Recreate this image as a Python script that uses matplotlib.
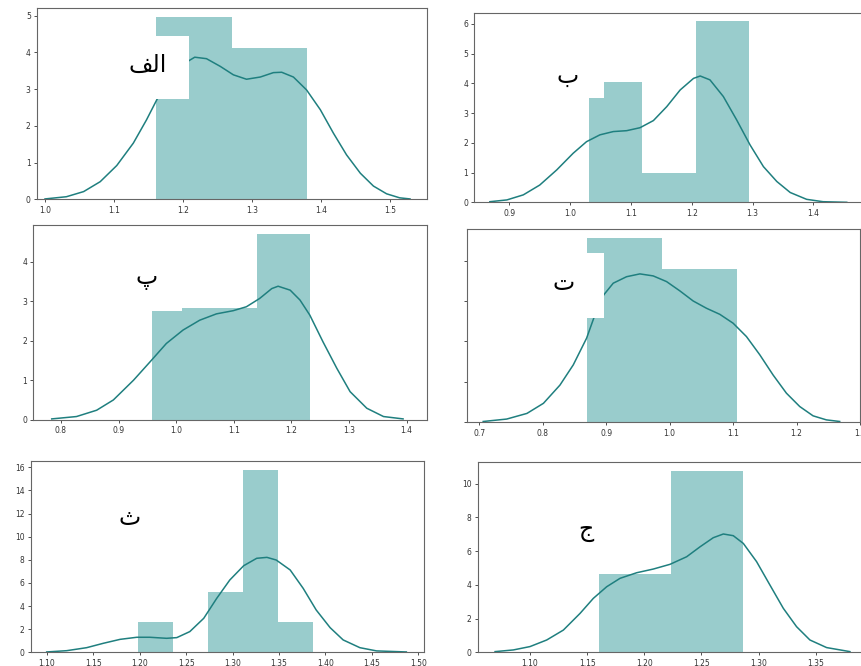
import matplotlib
matplotlib.use("Agg")
import matplotlib.pyplot as plt
from matplotlib.patches import Rectangle
import numpy as np

W, H = 861, 666

# panel labels (Persian); "alef" written with presentation forms in visual order
labels = ["\uFED2\uFEDF\uFE8D", "ب", "پ", "ت", "ث", "ج"]

# histogram bin edges and densities
edges_1 = [1.161, 1.2705, 1.379]
dens_1 = [4.96, 4.12]
edges_2 = [1.031, 1.119, 1.207, 1.295]
dens_2 = [4.06, 1.0, 6.09]
edges_3 = [0.958, 1.050, 1.141, 1.233]
dens_3 = [2.83, 2.83, 4.69]
edges_4 = [0.870, 0.988, 1.1065]
dens_4 = [4.55, 3.79]
edges_5 = [1.1986, 1.2363, 1.274, 1.3117, 1.3494, 1.387]
dens_5 = [2.59, 0.0, 5.24, 15.76, 2.59]
edges_6 = [1.1604, 1.2236, 1.2867]
dens_6 = [4.64, 10.77]

# kde curves
kde_x1 = [1.000, 1.031, 1.056, 1.080, 1.104, 1.128, 1.147, 1.162, 1.180, 1.195, 1.209, 1.217,
          1.234, 1.254, 1.273, 1.292, 1.312, 1.331, 1.343, 1.360, 1.379, 1.399, 1.418, 1.437,
          1.457, 1.476, 1.495, 1.514, 1.529]
kde_y1 = [0.01, 0.07, 0.21, 0.48, 0.92, 1.53, 2.16, 2.71, 3.25, 3.60, 3.78, 3.87,
          3.83, 3.62, 3.39, 3.27, 3.33, 3.45, 3.46, 3.33, 2.98, 2.44, 1.80, 1.21,
          0.71, 0.36, 0.15, 0.04, 0.01]
kde_x2 = [0.868, 0.896, 0.923, 0.950, 0.978, 1.005, 1.027, 1.049, 1.071, 1.093, 1.115, 1.137,
          1.159, 1.181, 1.203, 1.214, 1.230, 1.252, 1.274, 1.296, 1.318, 1.340, 1.362, 1.389,
          1.416, 1.455]
kde_y2 = [0.02, 0.08, 0.25, 0.58, 1.09, 1.65, 2.04, 2.27, 2.38, 2.41, 2.51, 2.75,
          3.22, 3.78, 4.17, 4.25, 4.12, 3.56, 2.77, 1.93, 1.20, 0.70, 0.33, 0.10,
          0.02, 0.0]
kde_x3 = [0.784, 0.827, 0.862, 0.891, 0.926, 0.955, 0.983, 1.012, 1.041, 1.070, 1.099, 1.122,
          1.145, 1.166, 1.177, 1.198, 1.215, 1.232, 1.255, 1.279, 1.302, 1.331, 1.360, 1.394]
kde_y3 = [0.02, 0.08, 0.24, 0.50, 1.00, 1.47, 1.93, 2.27, 2.52, 2.68, 2.76, 2.86,
          3.07, 3.32, 3.38, 3.28, 3.03, 2.65, 1.97, 1.30, 0.71, 0.29, 0.08, 0.02]
kde_x4 = [0.706, 0.743, 0.775, 0.801, 0.827, 0.848, 0.869, 0.882, 0.896, 0.911, 0.932, 0.953,
          0.974, 0.995, 1.016, 1.037, 1.058, 1.079, 1.100, 1.121, 1.142, 1.163, 1.184, 1.205,
          1.226, 1.247, 1.268]
kde_y4 = [0.02, 0.08, 0.22, 0.47, 0.92, 1.42, 2.08, 2.65, 3.15, 3.44, 3.60, 3.67,
          3.62, 3.48, 3.25, 3.00, 2.82, 2.67, 2.45, 2.12, 1.67, 1.17, 0.72, 0.39,
          0.16, 0.06, 0.02]
kde_x5 = [1.100, 1.1215, 1.143, 1.161, 1.179, 1.197, 1.211, 1.229, 1.240, 1.254, 1.269, 1.283,
          1.297, 1.312, 1.326, 1.337, 1.347, 1.362, 1.376, 1.390, 1.405, 1.419, 1.437, 1.455,
          1.487]
kde_y5 = [0.03, 0.14, 0.40, 0.78, 1.12, 1.30, 1.30, 1.21, 1.27, 1.79, 2.94, 4.67,
          6.25, 7.49, 8.13, 8.21, 7.98, 7.12, 5.53, 3.66, 2.13, 1.07, 0.40, 0.12,
          0.03]
kde_x6 = [1.0694, 1.0854, 1.100, 1.1146, 1.1292, 1.1438, 1.1554, 1.1671, 1.1788, 1.1933, 1.2079,
          1.2225, 1.2371, 1.2488, 1.2604, 1.2692, 1.2779, 1.2867, 1.2983, 1.3100, 1.3217,
          1.3333, 1.3450, 1.3596, 1.3800]
kde_y6 = [0.04, 0.14, 0.34, 0.73, 1.32, 2.31, 3.20, 3.89, 4.39, 4.72, 4.94,
          5.22, 5.67, 6.26, 6.80, 7.02, 6.92, 6.46, 5.38, 3.99, 2.61,
          1.52, 0.73, 0.28, 0.04]

xticks_1 = [1.0, 1.1, 1.2, 1.3, 1.4, 1.5]
xticks_2 = [0.9, 1.0, 1.1, 1.2, 1.3, 1.4]
xticks_3 = [0.8, 0.9, 1.0, 1.1, 1.2, 1.3, 1.4]
xticks_4 = [0.7, 0.8, 0.9, 1.0, 1.1, 1.2, 1.3]
xticks_5 = [1.10, 1.15, 1.20, 1.25, 1.30, 1.35, 1.40, 1.45, 1.50]
xticks_6 = [1.10, 1.15, 1.20, 1.25, 1.30, 1.35]

# panel layout: pixel box (left, top, right, bottom), xlim, ylim top, yticks, tick format
panels = [
    ((37, 8, 427, 199.3), (0.9884, 1.5536), 5.21, range(0, 6), "%.1f", True),
    ((474.3, 12.7, 864, 202.3), (0.8424, 1.4834), 6.38, range(0, 7), "%.1f", True),
    ((33.3, 225, 426.7, 419.7), (0.752, 1.435), 4.93, range(0, 5), "%.1f", True),
    ((466.7, 229, 860, 422.3), (0.680, 1.2998), 4.78, range(0, 5), "%.1f", False),
    ((30.7, 460.7, 424, 652.3), (1.0828, 1.506), 16.57, range(0, 17, 2), "%.2f", True),
    ((477.7, 461.7, 869, 652.3), (1.0542, 1.3967), 11.31, range(0, 11, 2), "%.2f", True),
]
hists = [(edges_1, dens_1), (edges_2, dens_2), (edges_3, dens_3),
         (edges_4, dens_4), (edges_5, dens_5), (edges_6, dens_6)]
kdes = [(kde_x1, kde_y1), (kde_x2, kde_y2), (kde_x3, kde_y3),
        (kde_x4, kde_y4), (kde_x5, kde_y5), (kde_x6, kde_y6)]
xticks = [xticks_1, xticks_2, xticks_3, xticks_4, xticks_5, xticks_6]

# label positions (pixel centres) and white cover boxes (left, top, right, bottom)
label_pos = [(148, 65), (568, 76), (147, 278), (564, 283), (130, 518), (586, 530)]
boxes = [(125, 36, 189, 99), (545, 55, 604, 98), (120, 250, 181.7, 311), (545, 253.3, 604, 317.7)]

fig = plt.figure(figsize=(W / 100, H / 100), dpi=100)
fig.patch.set_facecolor("white")

for i, (box, xl, ytop, yt, fmt, ylab) in enumerate(panels):
    l, t, r, b = box
    ax = fig.add_axes([l / W, 1 - b / H, (r - l) / W, (b - t) / H])
    e, d = hists[i]
    ax.bar(e[:-1], d, width=np.diff(e), align="edge", color="teal", alpha=0.4, linewidth=0)
    kx, ky = kdes[i]
    ax.plot(kx, ky, color="#1f7f7f", lw=1.1)
    ax.set_xlim(*xl)
    ax.set_ylim(0, ytop)
    ax.set_xticks(xticks[i])
    ax.set_xticklabels([fmt % v for v in xticks[i]])
    ax.set_yticks(list(yt))
    if not ylab:
        ax.set_yticklabels([])
    ax.tick_params(labelsize=5.5, length=2.5, width=0.6, colors="#333333", pad=2)
    for s in ax.spines.values():
        s.set_color("#666666")
        s.set_linewidth(0.8)

for (l, t, r, b) in boxes:
    fig.patches.append(Rectangle((l / W, 1 - b / H), (r - l) / W, (b - t) / H,
                                 transform=fig.transFigure, facecolor="white",
                                 edgecolor="none", zorder=5))

for lab, (x, y) in zip(labels, label_pos):
    fig.text(x / W, 1 - y / H, lab, fontsize=17, ha="center", va="center",
             family="DejaVu Sans", zorder=6)

fig.savefig("out.png", dpi=100)
